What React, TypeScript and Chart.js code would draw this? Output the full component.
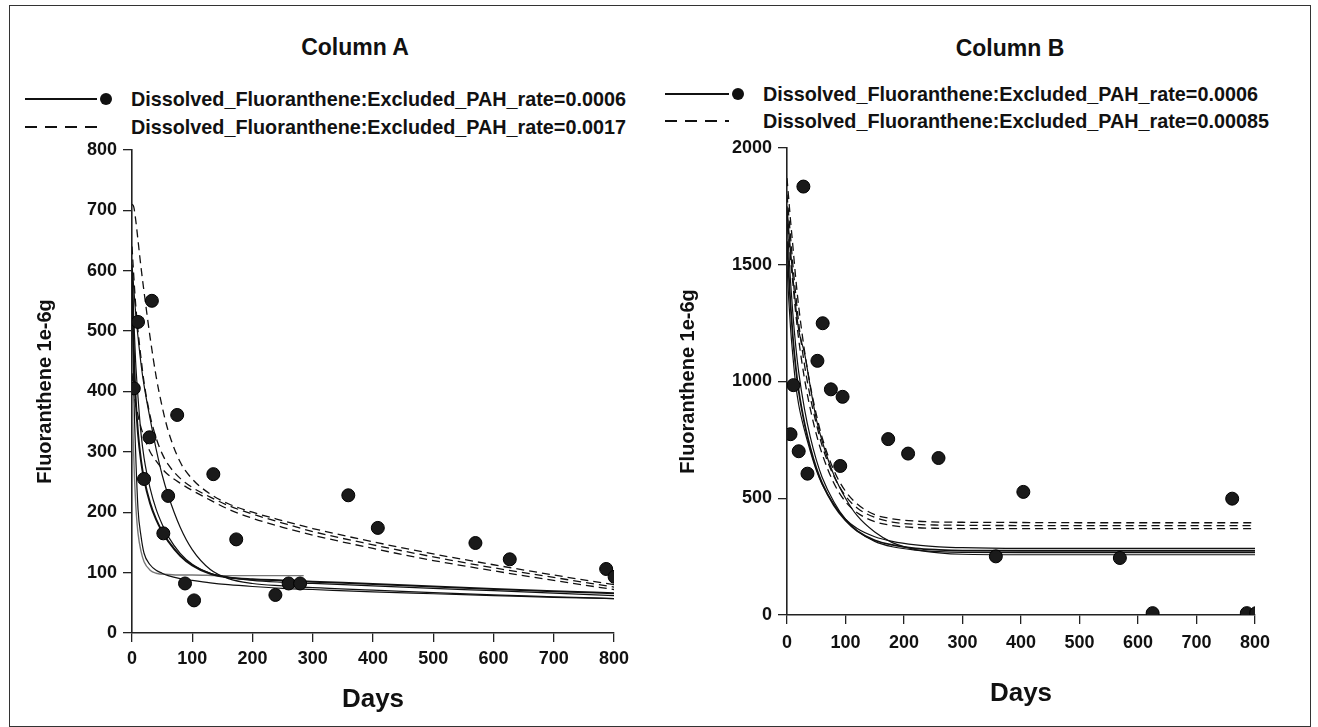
import React, { useEffect, useRef } from "react";
import { Chart, registerables } from "chart.js";

Chart.register(...registerables);

const FONT = "'Liberation Sans', Arial, Helvetica, sans-serif";
const INK = "#111";

// ---------- Column A ----------
const titleA = "Column A";
const legendA = [
  "Dissolved_Fluoranthene:Excluded_PAH_rate=0.0006",
  "Dissolved_Fluoranthene:Excluded_PAH_rate=0.0017",
];
const obsDaysA = [3, 10, 33, 75, 29, 20, 60, 52, 135, 173, 88, 103, 238, 260, 279, 359, 408, 570, 627, 787, 801];
const obsValsA = [405, 515, 550, 361, 324, 255, 227, 165, 263, 155, 82, 54, 63, 82, 82, 228, 174, 149, 122, 106, 93];

const gridA = [0, 3, 6, 10, 15, 20, 30, 40, 50, 60, 80, 100, 130, 160, 200, 250, 300, 400, 500, 600, 700, 800];
const solidA1 = [590, 400, 300, 205, 160, 132, 113, 104, 99, 95, 90, 87, 83, 80, 77, 74, 72, 68, 65, 62, 59, 57];
const solidA2 = [600, 470, 390, 330, 285, 255, 215, 188, 168, 152, 128, 112, 98, 92, 89, 87, 85, 81, 77, 73, 69, 66];
const solidA3 = [600, 520, 450, 390, 330, 290, 240, 205, 180, 160, 132, 114, 99, 92, 87, 84, 82, 78, 74, 70, 66, 62];
const solidA4 = [610, 570, 530, 490, 445, 410, 355, 305, 262, 228, 175, 138, 105, 90, 82, 78, 75, 71, 67, 63, 60, 57];
const shortDaysA = [0, 2, 4, 7, 10, 15, 20, 30, 40, 60, 80, 100, 150, 200, 285];
const shortSolidA = [400, 320, 260, 200, 165, 135, 118, 104, 99, 97, 96, 96, 95, 95, 95];
const dashedA1 = [710, 705, 685, 650, 605, 565, 490, 425, 375, 335, 283, 255, 230, 214, 200, 186, 173, 151, 131, 113, 96, 80];
const dashedA2 = [640, 590, 545, 500, 455, 415, 360, 323, 297, 279, 256, 241, 225, 211, 197, 182, 168, 146, 126, 108, 92, 76];
const dashedA3 = [430, 400, 380, 360, 340, 325, 300, 285, 272, 262, 248, 236, 220, 205, 190, 175, 162, 140, 120, 103, 87, 72];

// ---------- Column B ----------
const titleB = "Column B";
const legendB = [
  "Dissolved_Fluoranthene:Excluded_PAH_rate=0.0006",
  "Dissolved_Fluoranthene:Excluded_PAH_rate=0.00085",
];
const obsDaysB = [6, 11, 20, 28, 35, 52, 61, 75, 91, 95, 173, 207, 259, 357, 404, 569, 625, 761, 786, 802];
const obsValsB = [774, 984, 701, 1834, 605, 1088, 1249, 966, 638, 934, 753, 691, 672, 251, 527, 244, 8, 498, 8, 8];

const gridB = [0, 3, 6, 10, 15, 20, 30, 40, 50, 60, 80, 100, 120, 150, 180, 220, 260, 300, 400, 500, 600, 700, 800];
const solidB1 = [1500, 1350, 1230, 1110, 985, 900, 790, 700, 620, 560, 475, 410, 370, 335, 315, 300, 292, 288, 285, 285, 285, 285, 285];
const solidB2 = [1600, 1460, 1330, 1190, 1060, 960, 820, 715, 630, 565, 470, 405, 360, 320, 300, 285, 279, 276, 275, 275, 275, 275, 275];
const solidB3 = [1700, 1560, 1430, 1290, 1150, 1040, 880, 760, 665, 590, 485, 410, 360, 315, 292, 278, 271, 268, 267, 267, 267, 267, 267];
const solidB4 = [1750, 1650, 1560, 1450, 1320, 1220, 1120, 975, 840, 745, 600, 500, 425, 355, 310, 280, 266, 260, 258, 258, 258, 258, 258];
const dashedB1 = [1870, 1780, 1690, 1580, 1440, 1320, 1130, 980, 860, 760, 620, 530, 475, 430, 412, 402, 398, 397, 396, 395, 395, 395, 395];
const dashedB2 = [1800, 1710, 1620, 1500, 1370, 1250, 1070, 930, 820, 725, 595, 510, 458, 418, 398, 388, 385, 384, 383, 383, 383, 383, 383];
const dashedB3 = [1720, 1620, 1530, 1420, 1290, 1180, 1010, 880, 775, 690, 565, 485, 438, 400, 383, 374, 371, 370, 370, 370, 370, 370, 370];

const xTicks = [0, 100, 200, 300, 400, 500, 600, 700, 800];

const pts = (xs: number[], ys: number[]) => xs.map((x, i) => ({ x, y: ys[i] }));

function lineDs(xs: number[], ys: number[], dashed: boolean, width = 1.2, color = INK) {
  return {
    data: pts(xs, ys),
    showLine: true,
    borderColor: color,
    borderWidth: width,
    borderDash: dashed ? [8, 5] : [],
    pointRadius: 0,
    fill: false,
    cubicInterpolationMode: "monotone" as const,
  };
}

type Cfg = {
  datasets: any[];
  yMax: number;
  yStep: number;
  yWidth: number;
  xHeight: number;
  padRight: number;
  yTitlePad: number;
  xTitlePad: number;
  xTickPad: number;
};

function buildConfig(c: Cfg): any {
  const tickFont = { family: FONT, size: 18, weight: "bold" as const };
  return {
    type: "scatter",
    data: { datasets: c.datasets },
    options: {
      animation: false,
      responsive: false,
      maintainAspectRatio: false,
      layout: { padding: { top: 10, right: c.padRight, bottom: 0, left: 0 } },
      plugins: { legend: { display: false }, tooltip: { enabled: false }, title: { display: false } },
      scales: {
        x: {
          type: "linear",
          min: 0,
          max: 800,
          afterBuildTicks: (s: any) => {
            s.ticks = xTicks.map((v) => ({ value: v }));
          },
          afterFit: (s: any) => {
            s.height = c.xHeight;
          },
          ticks: {
            color: INK,
            font: tickFont,
            padding: c.xTickPad,
            maxRotation: 0,
            autoSkip: false,
            callback: (v: any) => String(v),
          },
          grid: { drawOnChartArea: false, drawTicks: true, tickLength: 9, color: "#222", lineWidth: 1.3 },
          border: { display: true, color: "#222", width: 1.6 },
          title: {
            display: true,
            text: "Days",
            color: INK,
            font: { family: FONT, size: 26, weight: "bold" },
            padding: { top: 0, bottom: c.xTitlePad },
          },
        },
        y: {
          type: "linear",
          min: 0,
          max: c.yMax,
          afterFit: (s: any) => {
            s.width = c.yWidth;
          },
          ticks: { stepSize: c.yStep, color: INK, font: tickFont, padding: 6, callback: (v: any) => String(v) },
          grid: { drawOnChartArea: false, drawTicks: true, tickLength: 9, color: "#222", lineWidth: 1.3 },
          border: { display: true, color: "#222", width: 1.6 },
          title: {
            display: true,
            text: "Fluoranthene 1e-6g",
            color: INK,
            font: { family: FONT, size: 20, weight: "bold" },
            padding: { top: c.yTitlePad, bottom: 0 },
          },
        },
      },
    },
  };
}

function scatterDs(xs: number[], ys: number[]) {
  return {
    data: pts(xs, ys),
    showLine: false,
    pointRadius: 6.5,
    pointBackgroundColor: "#1a1a1a",
    pointBorderColor: "#000",
    pointBorderWidth: 1,
  };
}

function ChartCanvas(props: { cfg: Cfg; left: number; top: number; width: number; height: number }) {
  const ref = useRef<HTMLCanvasElement | null>(null);
  useEffect(() => {
    if (!ref.current) return;
    const chart = new Chart(ref.current, buildConfig(props.cfg));
    return () => chart.destroy();
  }, []);
  return (
    <canvas
      ref={ref}
      width={props.width}
      height={props.height}
      style={{ position: "absolute", left: props.left, top: props.top, width: props.width, height: props.height }}
    />
  );
}

function Legend(props: { left: number; top: number; gap: number; textLeft: number; labels: string[] }) {
  const { left, top, gap, textLeft, labels } = props;
  const lineEnd = textLeft - left - 34;
  const textStyle: React.CSSProperties = {
    position: "absolute",
    left: textLeft,
    fontFamily: FONT,
    fontWeight: "bold",
    fontSize: 19.8,
    lineHeight: "20px",
    color: INK,
    whiteSpace: "nowrap",
    transform: "translateY(-50%)",
  };
  return (
    <>
      <svg style={{ position: "absolute", left: left, top: top - 10, overflow: "visible" }} width={lineEnd + 20} height={gap + 20}>
        <line x1={0} y1={10} x2={lineEnd} y2={10} stroke={INK} strokeWidth={2} />
        <circle cx={lineEnd + 9} cy={10} r={6} fill={INK} />
        <line x1={0} y1={10 + gap} x2={lineEnd} y2={10 + gap} stroke={INK} strokeWidth={2} strokeDasharray="12,8" />
      </svg>
      <div style={{ ...textStyle, top: top }}>{labels[0]}</div>
      <div style={{ ...textStyle, top: top + gap }}>{labels[1]}</div>
    </>
  );
}

export default function App() {
  const cfgA: Cfg = {
    datasets: [
      scatterDs(obsDaysA, obsValsA),
      lineDs(gridA, solidA2, false, 2),
      lineDs(gridA, solidA1, false),
      lineDs(gridA, solidA3, false),
      lineDs(gridA, solidA4, false),
      lineDs(shortDaysA, shortSolidA, false, 1.4, "#777"),
      lineDs(gridA, dashedA1, true, 1.3),
      lineDs(gridA, dashedA2, true, 1.3),
      lineDs(gridA, dashedA3, true, 1.3),
    ],
    yMax: 800,
    yStep: 100,
    yWidth: 112,
    xHeight: 87,
    padRight: 26,
    yTitlePad: 13,
    xTitlePad: 5,
    xTickPad: 6,
  };
  const cfgB: Cfg = {
    datasets: [
      scatterDs(obsDaysB, obsValsB),
      lineDs(gridB, solidB1, false),
      lineDs(gridB, solidB2, false, 1.8),
      lineDs(gridB, solidB3, false),
      lineDs(gridB, solidB4, false),
      lineDs(gridB, dashedB1, true, 1.3),
      lineDs(gridB, dashedB2, true, 1.3),
      lineDs(gridB, dashedB3, true, 1.3),
    ],
    yMax: 2000,
    yStep: 500,
    yWidth: 122,
    xHeight: 105,
    padRight: 30,
    yTitlePad: 11,
    xTitlePad: 11,
    xTickPad: 8,
  };
  const titleStyle: React.CSSProperties = {
    position: "absolute",
    fontFamily: FONT,
    fontWeight: "bold",
    fontSize: 23,
    color: INK,
    whiteSpace: "nowrap",
    transform: "translate(-50%, -50%)",
    lineHeight: "26px",
  };
  return (
    <div style={{ position: "absolute", left: 0, top: 0, width: 1318, height: 727, background: "#fff", overflow: "hidden" }}>
      <div
        style={{
          position: "absolute",
          left: 9,
          top: 5,
          width: 1302,
          height: 722,
          border: "1.5px solid #333",
          boxSizing: "border-box",
        }}
      />
      <div style={{ ...titleStyle, left: 355, top: 47 }}>{titleA}</div>
      <div style={{ ...titleStyle, left: 1010, top: 48 }}>{titleB}</div>
      <Legend left={25} top={99} gap={28} textLeft={131} labels={legendA} />
      <Legend left={665} top={94} gap={27} textLeft={763} labels={legendB} />
      <ChartCanvas cfg={cfgA} left={20} top={133} width={620} height={587} />
      <ChartCanvas cfg={cfgB} left={665} top={131} width={620} height={589} />
    </div>
  );
}
